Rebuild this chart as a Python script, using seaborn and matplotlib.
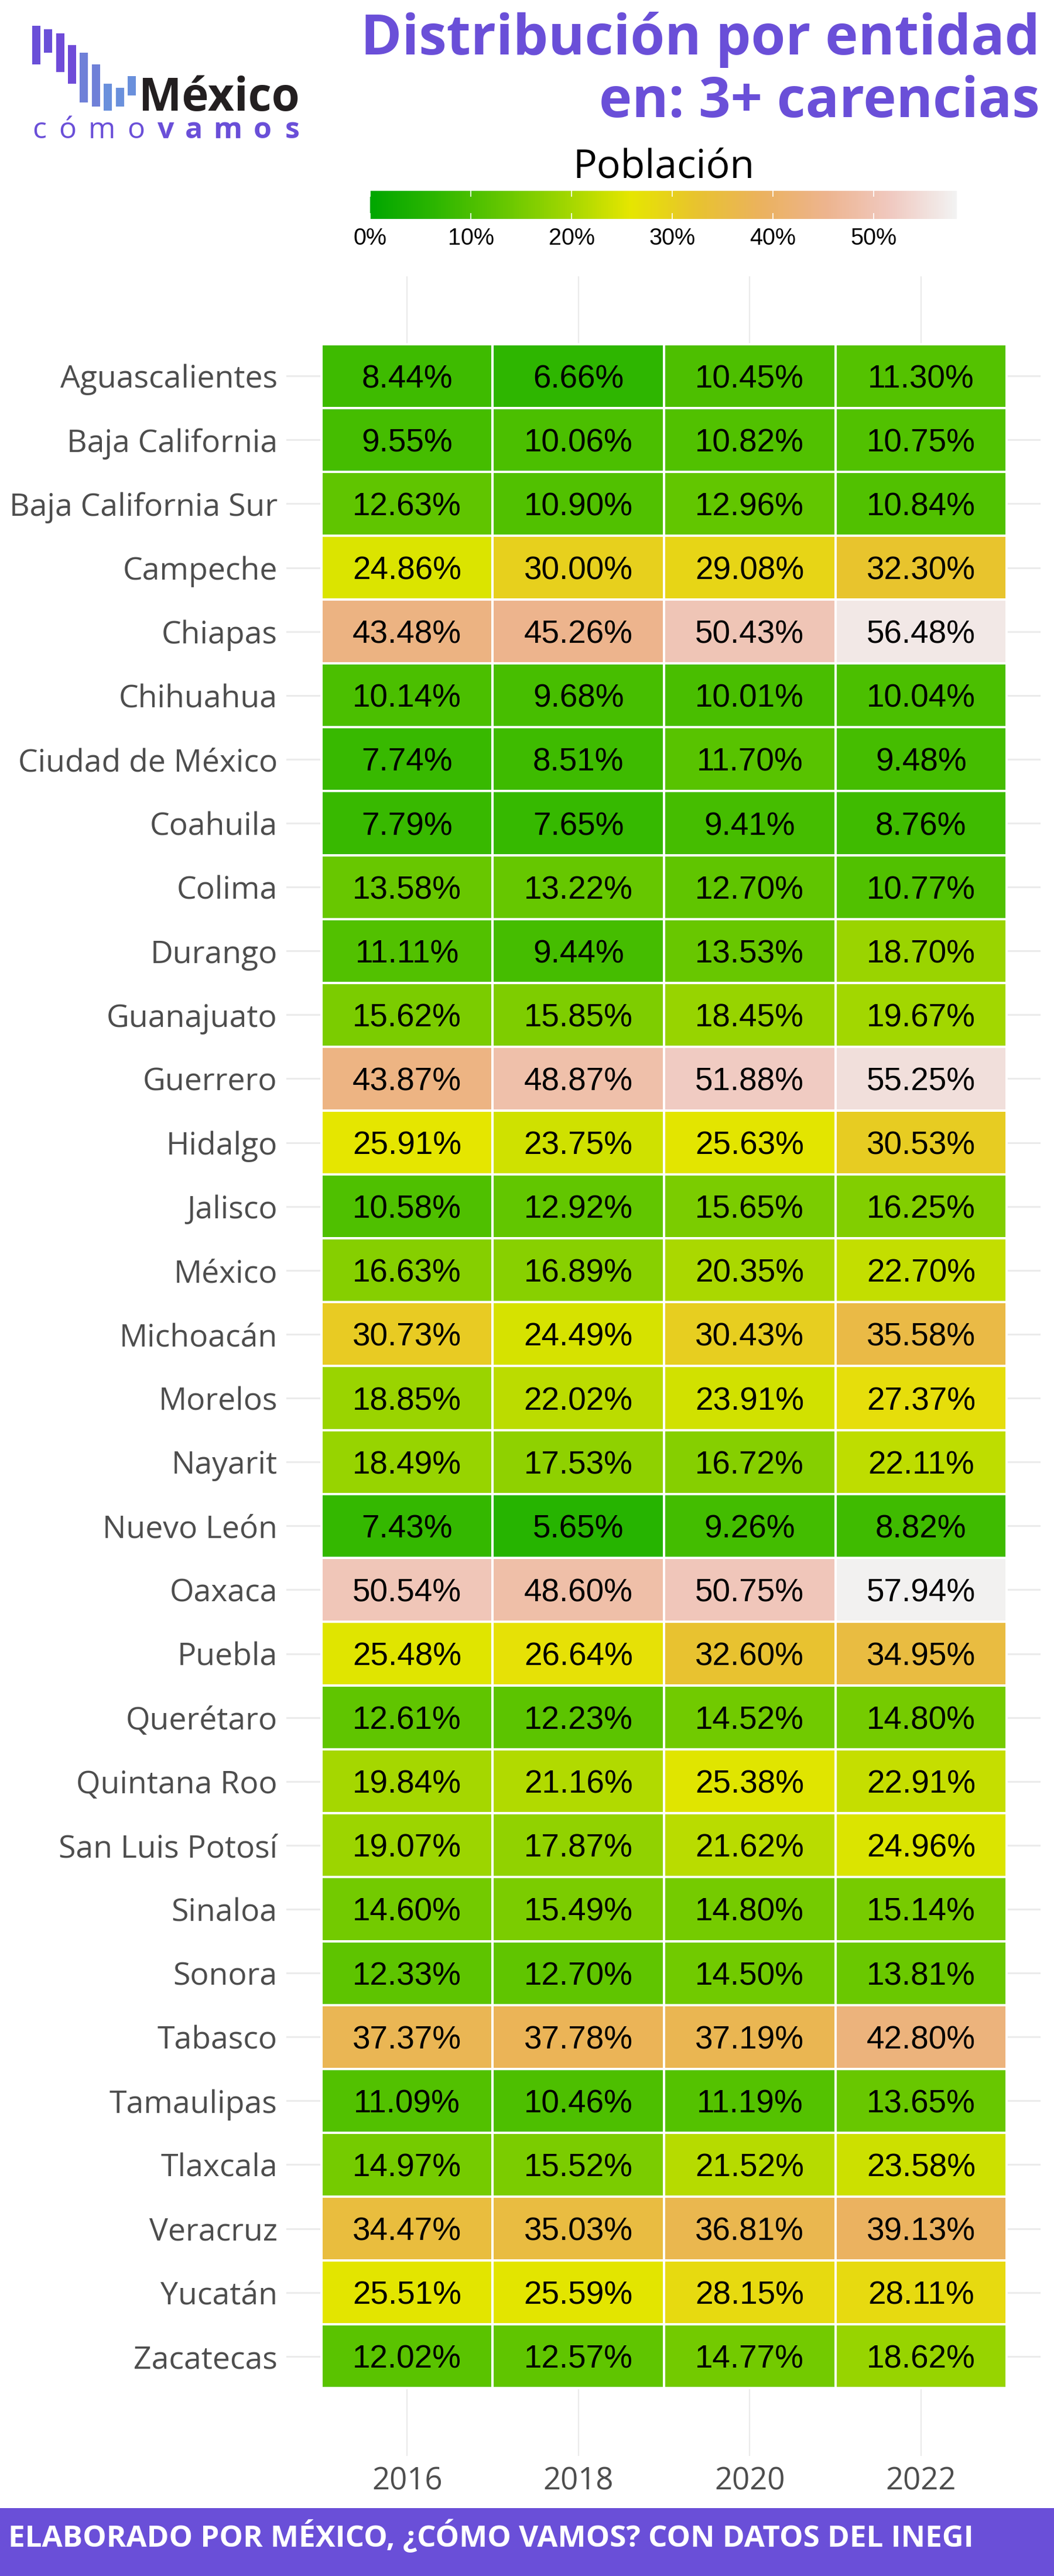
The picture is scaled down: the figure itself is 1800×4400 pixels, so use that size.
import numpy as np
import pandas as pd
import matplotlib.pyplot as plt
from matplotlib.colors import LinearSegmentedColormap
from matplotlib.patches import Rectangle
import seaborn as sns

estados = ["Aguascalientes", "Baja California", "Baja California Sur", "Campeche", "Chiapas",
           "Chihuahua", "Ciudad de México", "Coahuila", "Colima", "Durango", "Guanajuato",
           "Guerrero", "Hidalgo", "Jalisco", "México", "Michoacán", "Morelos", "Nayarit",
           "Nuevo León", "Oaxaca", "Puebla", "Querétaro", "Quintana Roo", "San Luis Potosí",
           "Sinaloa", "Sonora", "Tabasco", "Tamaulipas", "Tlaxcala", "Veracruz", "Yucatán",
           "Zacatecas"]
v2016 = [8.44, 9.55, 12.63, 24.86, 43.48, 10.14, 7.74, 7.79, 13.58, 11.11, 15.62, 43.87, 25.91,
         10.58, 16.63, 30.73, 18.85, 18.49, 7.43, 50.54, 25.48, 12.61, 19.84, 19.07, 14.60, 12.33,
         37.37, 11.09, 14.97, 34.47, 25.51, 12.02]
v2018 = [6.66, 10.06, 10.90, 30.00, 45.26, 9.68, 8.51, 7.65, 13.22, 9.44, 15.85, 48.87, 23.75,
         12.92, 16.89, 24.49, 22.02, 17.53, 5.65, 48.60, 26.64, 12.23, 21.16, 17.87, 15.49, 12.70,
         37.78, 10.46, 15.52, 35.03, 25.59, 12.57]
v2020 = [10.45, 10.82, 12.96, 29.08, 50.43, 10.01, 11.70, 9.41, 12.70, 13.53, 18.45, 51.88, 25.63,
         15.65, 20.35, 30.43, 23.91, 16.72, 9.26, 50.75, 32.60, 14.52, 25.38, 21.62, 14.80, 14.50,
         37.19, 11.19, 21.52, 36.81, 28.15, 14.77]
v2022 = [11.30, 10.75, 10.84, 32.30, 56.48, 10.04, 9.48, 8.76, 10.77, 18.70, 19.67, 55.25, 30.53,
         16.25, 22.70, 35.58, 27.37, 22.11, 8.82, 57.94, 34.95, 14.80, 22.91, 24.96, 15.14, 13.81,
         42.80, 13.65, 23.58, 39.13, 28.11, 18.62]
anios = ["2016", "2018", "2020", "2022"]
ticks_leyenda = [0, 10, 20, 30, 40, 50]

MORADO = "#6A4FD8"
W, H = 1800, 4400
# terrain.colors(10) de R
cmap = LinearSegmentedColormap.from_list("terrain10", ["#00A600", "#2DB600", "#63C600", "#A0D600", "#E6E600",
                                                       "#E8C32E", "#EBB25E", "#EDB48E", "#F0C9C0", "#F2F2F2"])

sns.set_theme(style="white")
plt.rcParams["font.family"] = ["Open Sans", "DejaVu Sans"]


def caja(x0, y0, x1, y1):
    # pixeles de la imagen a coordenadas de figura
    return [x0 / W, 1 - y1 / H, (x1 - x0) / W, (y1 - y0) / H]


df = pd.DataFrame({"2016": v2016, "2018": v2018, "2020": v2020, "2022": v2022}, index=estados)
etiquetas = df.map(lambda v: f"{v:.2f}%")

fig = plt.figure(figsize=(18, 44), dpi=100, facecolor="white")
ax = fig.add_axes(caja(489, 472, 1777, 4195))
cax = fig.add_axes(caja(632, 326, 1634, 374))

sns.heatmap(df, ax=ax, cbar_ax=cax, cmap=cmap, vmin=0, vmax=58.25, annot=etiquetas, fmt="",
            annot_kws={"color": "black", "fontsize": 39.5, "family": "Liberation Sans", "va": "center_baseline"},
            linewidths=1.6, linecolor="white", cbar_kws={"orientation": "horizontal"})

ax.set_xlim(-0.205, 4.198)
ax.set_ylim(33.06, -1.06)
ax.set_xlabel("")
ax.set_ylabel("")
ax.set_axisbelow(True)
ax.xaxis.grid(True, color="#EBEBEB", lw=1.7)
ax.yaxis.grid(True, color="#EBEBEB", lw=2.2)
ax.set_xticklabels(anios, rotation=0)
ax.set_yticklabels(estados, rotation=0, va="center_baseline")
ax.tick_params(axis="x", length=0, pad=12, labelsize=38, labelcolor="#4D4D4D", bottom=False)
ax.tick_params(axis="y", length=0, pad=11, labelsize=38.5, labelcolor="#4D4D4D", left=False)
for s in ax.spines.values():
    s.set_visible(False)

# leyenda
cbar = ax.collections[0].colorbar
cbar.outline.set_visible(False)
cbar.set_ticks(ticks_leyenda)
cbar.set_ticklabels([f"{t}%" for t in ticks_leyenda])
cax.tick_params(axis="x", length=0, pad=10, labelsize=28.5, labelcolor="black")
for lbl in cax.get_xticklabels():
    lbl.set_family("Liberation Sans")
cax.vlines(ticks_leyenda, 0, 0.2, color="white", lw=1.2)
cax.vlines(ticks_leyenda, 0.8, 1, color="white", lw=1.2)

# capa en pixeles: titulo, logo y pie
top = fig.add_axes([0, 0, 1, 1], facecolor="none")
top.set_xlim(0, W)
top.set_ylim(H, 0)
top.axis("off")

top.text(1776, 93, "Distribución por entidad", ha="right", va="baseline", fontsize=68.5, fontweight="bold", color=MORADO)
top.text(1776, 200, "en: 3+ carencias", ha="right", va="baseline", fontsize=68.5, fontweight="bold", color=MORADO)
top.text(1133, 303, "Población", ha="center", va="baseline", fontsize=49, color="black")

top.add_patch(Rectangle((0, 4284), W, 116, color=MORADO, lw=0))
top.text(14, 4350, "ELABORADO POR MÉXICO, ¿CÓMO VAMOS? CON DATOS DEL INEGI", ha="left", va="baseline",
         fontsize=36.7, fontweight="bold", color="white")

# logo
barras = [(55, 44, 110, "#6A4FD8"), (75, 50, 90, "#6A4FD8"), (96, 57, 123, "#6F4BD8"),
          (116, 77, 143, "#6F4BD8"), (136, 90, 175, "#6F80D8"), (157, 110, 182, "#6F80D8"),
          (177, 143, 189, "#6A90DC"), (198, 150, 182, "#6A90DC"), (218, 130, 163, "#6A90DC")]
for x, y0, y1, c in barras:
    top.add_patch(Rectangle((x, y0), 13.5, y1 - y0, color=c, lw=0))
top.text(237, 189, "México", ha="left", va="baseline", fontsize=56, fontweight="bold", color="#231F20")
for x, letra, peso in [(67, "c", "normal"), (115, "ó", "normal"), (174, "m", "normal"), (232, "o", "normal"),
                       (283, "v", "bold"), (331, "a", "bold"), (389, "m", "bold"), (448, "o", "bold"),
                       (499, "s", "bold")]:
    top.text(x, 236, letra, ha="center", va="baseline", fontsize=36, fontweight=peso, color=MORADO)

fig.savefig("out.png", dpi=100, facecolor="white")
